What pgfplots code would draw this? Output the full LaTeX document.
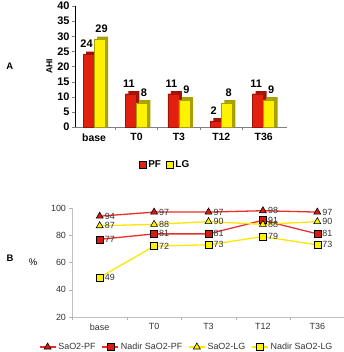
\documentclass[border=0pt]{standalone}
\usepackage{fontspec}
\setmainfont{Liberation Sans}
\usepackage{pgfplots}
\pgfplotsset{compat=1.18}
\usepackage{pgfplotstable}

\definecolor{bred}{HTML}{E2200F}
\definecolor{bredd}{HTML}{9E1208}
\definecolor{byel}{HTML}{FFF200}
\definecolor{byeld}{HTML}{A7A000}
\definecolor{lred}{HTML}{E8302A}
\definecolor{lyel}{HTML}{FFE600}
\definecolor{mred}{HTML}{D81A10}
\definecolor{txt}{HTML}{333333}

\pgfplotstableread{
x pf lg
0 24 29
1 11 8
2 11 9
3 2 8
4 11 9
}\ahi

\pgfplotstableread{
x sapf nadpf salg nadlg
0 94 77 87 49
1 97 81 88 72
2 97 81 90 73
3 98 91 88 79
4 97 81 90 73
}\sao

\begin{document}
\begin{tikzpicture}[x=1bp,y=1bp]
\path[use as bounding box] (0,0) rectangle (344,352);
% ---------------- A ----------------
\begin{axis}[at={(75bp,225bp)}, anchor=south west, scale only axis,
  width=212bp, height=121bp,
  xmin=-0.45, xmax=4.55, ymin=0, ymax=40,
  ytick={0,5,...,40},
  xtick={0,...,4}, xticklabels={base,T0,T3,T12,T36},
  xtick style={draw=none},
  extra x ticks={0.5,1.5,2.5,3.5}, extra x tick labels={},
  extra x tick style={xtick style={draw=gray, thin}},
  ybar, bar width=11bp,
  axis x line=bottom, axis y line=left,
  x axis line style={-, draw=gray, thick},
  y axis line style={-, draw=black},
  tick align=outside, major tick length=3bp,
  /pgf/number format/assume math mode=true,
  yticklabel style={font=\bfseries\fontsize{11}{13}\selectfont, xshift=1bp},
  xticklabel style={font=\bfseries\fontsize{10.5}{12}\selectfont},
  ylabel={AHI}, ylabel style={font=\bfseries\fontsize{8.7}{10}\selectfont, yshift=-2bp},
  legend columns=2,
  legend style={draw=none, fill=none, at={(0.425,0)}, anchor=center, yshift=-38bp,
    font=\bfseries\fontsize{10}{12}\selectfont,
    /tikz/every even column/.append style={column sep=3bp}},
  legend image code/.code={\draw[#1, draw=black, thin] (0bp,-3.5bp) rectangle (7bp,3.5bp);},
  clip=false,
]
\addplot[fill=bredd, draw=none, bar shift=-2.5bp, forget plot] table[x=x, y expr=\thisrow{pf}+0.9] {\ahi};
\addplot[fill=bred, draw=bredd, thin, bar shift=-5.5bp,
  nodes near coords, nodes near coords style={font=\bfseries\fontsize{11}{13}\selectfont, text=black, anchor=south, yshift=3bp, xshift=-2bp}]
  table[x=x, y=pf] {\ahi};
\addlegendentry{PF}
\addplot[fill=byeld, draw=none, bar shift=8.5bp, forget plot] table[x=x, y expr=\thisrow{lg}+0.9] {\ahi};
\addplot[fill=byel, draw=byeld, thin, bar shift=5.5bp,
  nodes near coords, nodes near coords style={font=\bfseries\fontsize{11}{13}\selectfont, text=black, anchor=south, yshift=3bp, xshift=2bp}]
  table[x=x, y=lg] {\ahi};
\addlegendentry{LG}
\node[font=\bfseries\fontsize{9.5}{11}\selectfont] at (axis description cs:-0.307,0.5) {A};
\end{axis}
% ---------------- B ----------------
\begin{axis}[at={(72.5bp,35bp)}, anchor=south west, scale only axis,
  width=272bp, height=109bp,
  xmin=-0.5, xmax=4.5, ymin=20, ymax=100,
  ytick={20,40,...,100},
  xtick={0,...,4}, xticklabels={base,T0,T3,T12,T36},
  xtick style={draw=none},
  extra x ticks={-0.5,0.5,1.5,2.5,3.5,4.5}, extra x tick labels={},
  extra x tick style={xtick style={draw=gray!60, thin}},
  axis x line=bottom, axis y line=left,
  axis line style={-, draw=gray!50},
  ytick style={draw=gray!60},
  tick align=outside, major tick length=3bp,
  /pgf/number format/assume math mode=true,
  tick label style={font=\fontsize{9}{11}\selectfont, text=txt},
  ylabel={\%}, ylabel style={rotate=-90, at={(axis description cs:-0.145,0.5)}, anchor=center, font=\fontsize{9.5}{11}\selectfont},
  legend columns=4,
  legend style={draw=none, fill=none, at={(0.42,0)}, anchor=center, yshift=-30bp,
    font=\fontsize{9}{11}\selectfont, text=txt,
    /tikz/every even column/.append style={column sep=4bp}},
  legend image code/.code={\draw[mark repeat=2,mark phase=2,#1] plot coordinates {(0bp,0bp) (8bp,0bp) (16bp,0bp)};},
  nodes near coords,
  nodes near coords style={font=\fontsize{9}{11}\selectfont, text=txt, anchor=west, xshift=1.5bp},
  clip=false,
]
\addplot[lred, line width=1.3bp, mark=triangle*, mark size=4bp, mark options={fill=mred, draw=black, line width=0.6bp}]
  table[x=x, y=sapf] {\sao};
\addlegendentry{SaO2-PF}
\addplot[lred, line width=1.3bp, mark=square*, mark size=3.5bp, mark options={fill=mred, draw=black, line width=0.6bp}]
  table[x=x, y=nadpf] {\sao};
\addlegendentry{Nadir SaO2-PF}
\addplot[lyel, line width=1.3bp, mark=triangle*, mark size=4bp, mark options={fill=byel, draw=black, line width=0.6bp}]
  table[x=x, y=salg] {\sao};
\addlegendentry{SaO2-LG}
\addplot[lyel, line width=1.3bp, mark=square*, mark size=3.5bp, mark options={fill=byel, draw=black, line width=0.6bp}]
  table[x=x, y=nadlg] {\sao};
\addlegendentry{Nadir SaO2-LG}
\node[font=\bfseries\fontsize{9.5}{11}\selectfont] at (axis description cs:-0.23,0.54) {B};
\end{axis}
\end{tikzpicture}
\end{document}
